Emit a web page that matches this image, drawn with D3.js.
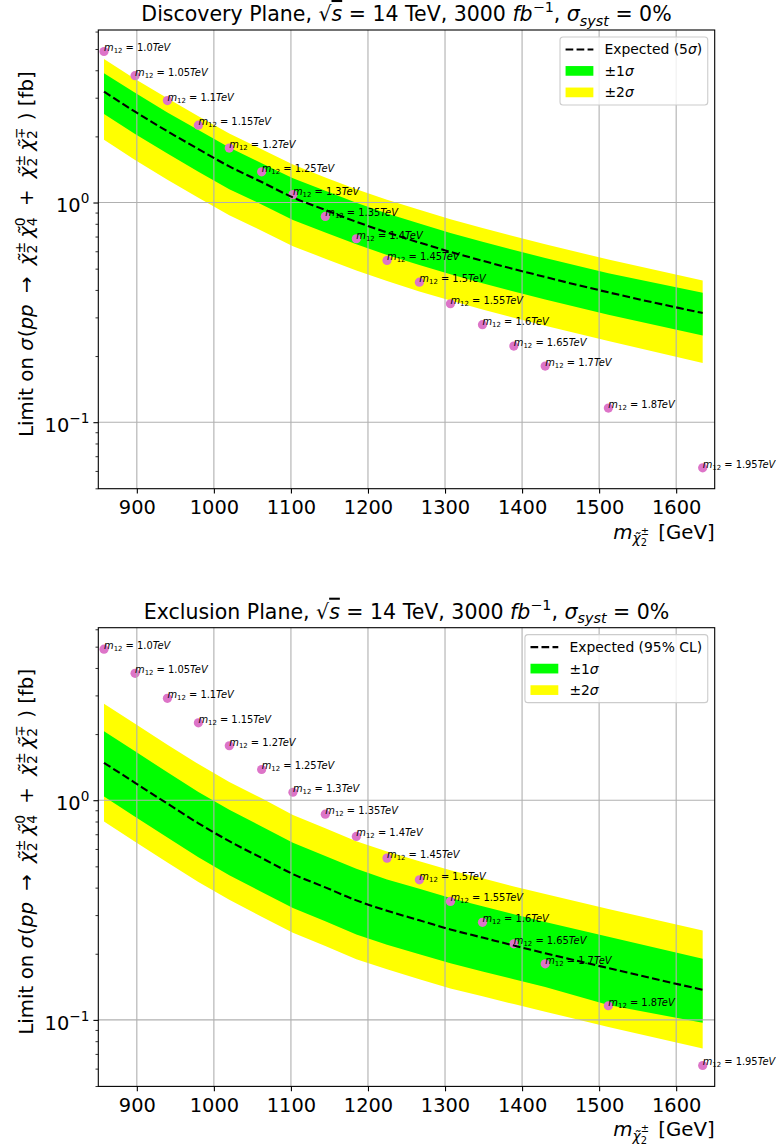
<!DOCTYPE html>
<html><head><meta charset="utf-8">
<script src="https://cdn.jsdelivr.net/npm/d3@7"></script>
<style>body{margin:0;background:#fff} svg{display:block} text{font-family:"DejaVu Sans",sans-serif;fill:#000}</style>
</head><body><svg id="c" width="776" height="1148"></svg>
<script>
// ---------------- data ----------------
const charginoMass = [857.4, 897.7, 939.7, 979.9, 1020.0, 1062.0, 1102.6, 1144.6, 1184.9, 1224.7, 1266.7, 1307.0, 1348.6, 1389.3, 1430.0, 1512.0, 1634.4];
const m12Labels = ["1.0","1.05","1.1","1.15","1.2","1.25","1.3","1.35","1.4","1.45","1.5","1.55","1.6","1.65","1.7","1.8","1.95"];
const signalXsec = [4.87, 3.78, 2.91, 2.25, 1.77, 1.38, 1.087, 0.864, 0.684, 0.545, 0.434, 0.346, 0.278, 0.222, 0.180, 0.116, 0.062];

const discExpected   = [3.20, 2.59, 2.11, 1.75, 1.46, 1.24, 1.055, 0.925, 0.817, 0.731, 0.657, 0.596, 0.543, 0.498, 0.458, 0.390, 0.314];
const discOneSigmaHi = [3.88, 3.16, 2.57, 2.14, 1.78, 1.51, 1.29, 1.13, 0.997, 0.892, 0.802, 0.727, 0.662, 0.608, 0.559, 0.476, 0.388];
const discOneSigmaLo = [2.53, 2.05, 1.67, 1.38, 1.15, 0.980, 0.833, 0.731, 0.645, 0.577, 0.519, 0.471, 0.429, 0.393, 0.362, 0.308, 0.248];
const discTwoSigmaHi = [4.50, 3.65, 2.98, 2.47, 2.06, 1.75, 1.49, 1.30, 1.15, 1.03, 0.926, 0.840, 0.766, 0.702, 0.646, 0.550, 0.442];
const discTwoSigmaLo = [1.93, 1.56, 1.27, 1.05, 0.876, 0.744, 0.633, 0.555, 0.490, 0.439, 0.394, 0.358, 0.326, 0.299, 0.275, 0.234, 0.186];

const exclExpected   = [1.48, 1.20, 0.965, 0.785, 0.651, 0.546, 0.461, 0.401, 0.350, 0.314, 0.284, 0.258, 0.237, 0.218, 0.201, 0.172, 0.137];
const exclOneSigmaHi = [2.06, 1.67, 1.34, 1.09, 0.905, 0.759, 0.641, 0.557, 0.487, 0.436, 0.395, 0.359, 0.329, 0.303, 0.279, 0.239, 0.190];
const exclOneSigmaLo = [1.04, 0.840, 0.676, 0.550, 0.456, 0.382, 0.323, 0.281, 0.245, 0.220, 0.199, 0.181, 0.166, 0.153, 0.141, 0.117, 0.0970];
const exclTwoSigmaHi = [2.75, 2.23, 1.79, 1.46, 1.21, 1.02, 0.857, 0.746, 0.651, 0.584, 0.528, 0.480, 0.441, 0.405, 0.374, 0.320, 0.255];
const exclTwoSigmaLo = [0.80, 0.647, 0.521, 0.424, 0.352, 0.295, 0.249, 0.217, 0.189, 0.170, 0.153, 0.139, 0.128, 0.118, 0.109, 0.0929, 0.0740];

const xTickValues = [900, 1000, 1100, 1200, 1300, 1400, 1500, 1600];
const yMajorTicks = [0.1, 1];
const yTickExponents = ["\u22121", "0"];
const xDomain = [850, 1650];
const yDomain = [0.0498, 6.1];

// ---------------- layout ----------------
const svg = d3.select('#c');
const axL = 98.3, axR = 714.7, axH = 458.7;
const FS_TICK = 19.4, FS_LAB = 19.8, FS_TITLE = 20.5, FS_LEG = 13.9, FS_PT = 9.9;
const GREEN = '#00ff00', YELLOW = '#ffff00', PINK = '#dd74c8';

const x = d3.scaleLinear().domain(xDomain).range([axL, axR]);

function rich(textSel, segs, fs) {
  let state = 0, lastW = 0;
  segs.forEach(sg => {
    const sz = (sg.s || 1) * fs;
    const off = (sg.o || 0) * fs;
    const t = textSel.append('tspan').text(sg.t).attr('font-size', sz);
    if (sg.it) t.attr('font-style', 'italic');
    if (sg.ov) t.attr('text-decoration', 'overline');
    const dy = off - state;
    if (Math.abs(dy) > 1e-6) t.attr('dy', dy);
    let dx = sg.st ? -lastW : 0;
    if (sg.dx) dx += sg.dx;
    if (dx !== 0) t.attr('dx', dx);
    state = off;
    lastW = t.node().getComputedTextLength();
  });
  return textSel;
}

const panels = [
  { top: 30, name: "Discovery Plane", leg: "Expected (5\u03c3)",
    exp: discExpected, g1: discOneSigmaHi, g0: discOneSigmaLo, y1: discTwoSigmaHi, y0: discTwoSigmaLo },
  { top: 627.7, name: "Exclusion Plane", leg: "Expected (95% CL)",
    exp: exclExpected, g1: exclOneSigmaHi, g0: exclOneSigmaLo, y1: exclTwoSigmaHi, y0: exclTwoSigmaLo }
];

panels.forEach(p => {
  const y = d3.scaleLog().domain(yDomain).range([p.top + axH, p.top]);
  const axB = p.top + axH;
  const g = svg.append('g');

  const band = (lo, hi) => d3.area()
    .x((d, i) => x(charginoMass[i]))
    .y0((d, i) => y(lo[i]))
    .y1((d, i) => y(hi[i]));
  g.append('path').datum(p.y1).attr('d', band(p.y0, p.y1)).attr('fill', YELLOW);
  g.append('path').datum(p.g1).attr('d', band(p.g0, p.g1)).attr('fill', GREEN);

  // points
  g.selectAll('circle.pt').data(signalXsec).enter().append('circle')
    .attr('cx', (d, i) => x(charginoMass[i])).attr('cy', d => y(d))
    .attr('r', 4.6).attr('fill', PINK);

  // grid
  g.selectAll('line.gx').data(xTickValues).enter().append('line')
    .attr('x1', d => x(d)).attr('x2', d => x(d)).attr('y1', p.top).attr('y2', axB)
    .attr('stroke', '#b0b0b0').attr('stroke-width', 1.1);
  g.selectAll('line.gy').data(yMajorTicks).enter().append('line')
    .attr('x1', axL).attr('x2', axR).attr('y1', d => y(d)).attr('y2', d => y(d))
    .attr('stroke', '#b0b0b0').attr('stroke-width', 1.1);

  // expected line
  g.append('path').datum(p.exp)
    .attr('d', d3.line().curve(d3.curveMonotoneX).x((d, i) => x(charginoMass[i])).y(d => y(d)))
    .attr('fill', 'none').attr('stroke', '#000').attr('stroke-width', 2.08)
    .attr('stroke-dasharray', '7.7,3.3');

  // point labels
  signalXsec.forEach((v, i) => {
    const t = g.append('text').attr('x', x(charginoMass[i])).attr('y', y(v));
    rich(t, [{t: 'm', it: 1}, {t: '12', s: 0.7, o: 0.2}, {t: ' = ' + m12Labels[i]}, {t: 'TeV', it: 1}], FS_PT);
  });

  // axes
  const xa = g.append('g').attr('transform', `translate(0,${axB})`)
    .call(d3.axisBottom(x).tickValues(xTickValues).tickSize(4.9).tickPadding(6.6).tickFormat(d3.format('d')));
  xa.select('.domain').remove();
  xa.selectAll('line').attr('stroke-width', 1.1);
  xa.selectAll('text').attr('font-size', FS_TICK).attr('font-family', '"DejaVu Sans",sans-serif').attr('fill', '#000');

  const ya = g.append('g').attr('transform', `translate(${axL},0)`)
    .call(d3.axisLeft(y).tickValues(yMajorTicks).tickSize(4.9).tickFormat(''));
  ya.select('.domain').remove();
  ya.selectAll('line').attr('stroke-width', 1.1);
  const minor = y.ticks().filter(v => yMajorTicks.indexOf(v) < 0);
  const ym = g.append('g').attr('transform', `translate(${axL},0)`)
    .call(d3.axisLeft(y).tickValues(minor).tickSize(2.8).tickFormat(''));
  ym.select('.domain').remove();
  ym.selectAll('line').attr('stroke-width', 0.8);

  yMajorTicks.forEach((v, i) => {
    const t = g.append('text').attr('x', axL - 9).attr('y', y(v) + 9.7).attr('text-anchor', 'end');
    rich(t, [{t: '10'}, {t: yTickExponents[i], s: 0.7, o: -0.45}], FS_TICK);
  });

  // spines
  g.append('rect').attr('x', axL).attr('y', p.top).attr('width', axR - axL).attr('height', axH)
    .attr('fill', 'none').attr('stroke', '#000').attr('stroke-width', 1.1);

  // title
  const tt = g.append('text').attr('x', (axL + axR) / 2).attr('y', p.top - 9).attr('text-anchor', 'middle');
  rich(tt, [{t: p.name + ', '}, {t: '\u221a'}, {t: 's', it: 1, ov: 1}, {t: ' = 14 TeV, 3000 '},
            {t: 'fb', it: 1}, {t: '\u22121', s: 0.7, o: -0.42}, {t: ', '}, {t: '\u03c3', it: 1},
            {t: 'syst', it: 1, s: 0.7, o: 0.22}, {t: ' = 0%'}], FS_TITLE);

  // x label
  const xl = g.append('text').attr('x', axR).attr('y', axB + 50).attr('text-anchor', 'end');
  rich(xl, [{t: 'm', it: 1}, {t: '\u03c7\u0303', it: 1, s: 0.7, o: 0.22}, {t: '2', s: 0.5, o: 0.36},
            {t: '\u00b1', s: 0.5, o: -0.2, st: 1}, {t: '  [GeV]', dx: 3}], FS_LAB);

  // y label (reads bottom to top, starts near the lower part of the axes)
  const yl = g.append('text').attr('text-anchor', 'start')
    .attr('transform', `translate(33,${p.top + 407}) rotate(-90)`);
  const chi = '\u03c7\u0303';
  rich(yl, [{t: 'Limit on '}, {t: '\u03c3', it: 1}, {t: '(', dx: 1}, {t: 'pp', it: 1}, {t: ' \u2192 ', dx: 5},
            {t: chi, it: 1, dx: 5}, {t: '2', s: 0.7, o: 0.22}, {t: '\u00b1', s: 0.7, o: -0.42, st: 1},
            {t: chi, it: 1, dx: 4}, {t: '4', s: 0.7, o: 0.22}, {t: '0', s: 0.7, o: -0.42, st: 1},
            {t: ' + ', dx: 5},
            {t: chi, it: 1, dx: 5}, {t: '2', s: 0.7, o: 0.22}, {t: '\u00b1', s: 0.7, o: -0.42, st: 1},
            {t: chi, it: 1, dx: 4}, {t: '2', s: 0.7, o: 0.22}, {t: '\u2213', s: 0.7, o: -0.42, st: 1},
            {t: ' ) [fb]', dx: 1}], FS_LAB);

  // legend
  const lg = g.append('g');
  const box = lg.append('rect');
  const rows = [12.5, 34, 55.5];
  const texts = [p.leg, '\u00b11\u03c3', '\u00b12\u03c3'];
  let maxW = 0;
  texts.forEach((s, i) => {
    const t = lg.append('text').attr('x', 5.56 + 27.8 + 11.1).attr('y', rows[i] + 5).attr('font-size', FS_LEG);
    if (i === 0) {
      const parts = s.split('\u03c3');
      if (parts.length > 1) rich(t, [{t: parts[0]}, {t: '\u03c3', it: 1}, {t: parts[1]}], FS_LEG);
      else rich(t, [{t: s}], FS_LEG);
    } else {
      rich(t, [{t: s.slice(0, 2)}, {t: '\u03c3', it: 1}], FS_LEG);
    }
    maxW = Math.max(maxW, t.node().getComputedTextLength());
  });
  lg.append('line').attr('x1', 5.56).attr('x2', 5.56 + 27.8).attr('y1', rows[0]).attr('y2', rows[0])
    .attr('stroke', '#000').attr('stroke-width', 2.08).attr('stroke-dasharray', '7.7,3.3');
  lg.append('rect').attr('x', 5.56).attr('y', rows[1] - 4.9).attr('width', 27.8).attr('height', 9.7).attr('fill', GREEN);
  lg.append('rect').attr('x', 5.56).attr('y', rows[2] - 4.9).attr('width', 27.8).attr('height', 9.7).attr('fill', YELLOW);
  const bw = 2 * 5.56 + 27.8 + 11.1 + maxW;
  box.attr('x', 0).attr('y', 0).attr('width', bw).attr('height', 68).attr('rx', 3)
    .attr('fill', '#fff').attr('fill-opacity', 0.8).attr('stroke', '#cccccc').attr('stroke-width', 1.1);
  lg.attr('transform', `translate(${axR - 6.95 - bw},${p.top + 6.95})`);
});
</script></body></html>
